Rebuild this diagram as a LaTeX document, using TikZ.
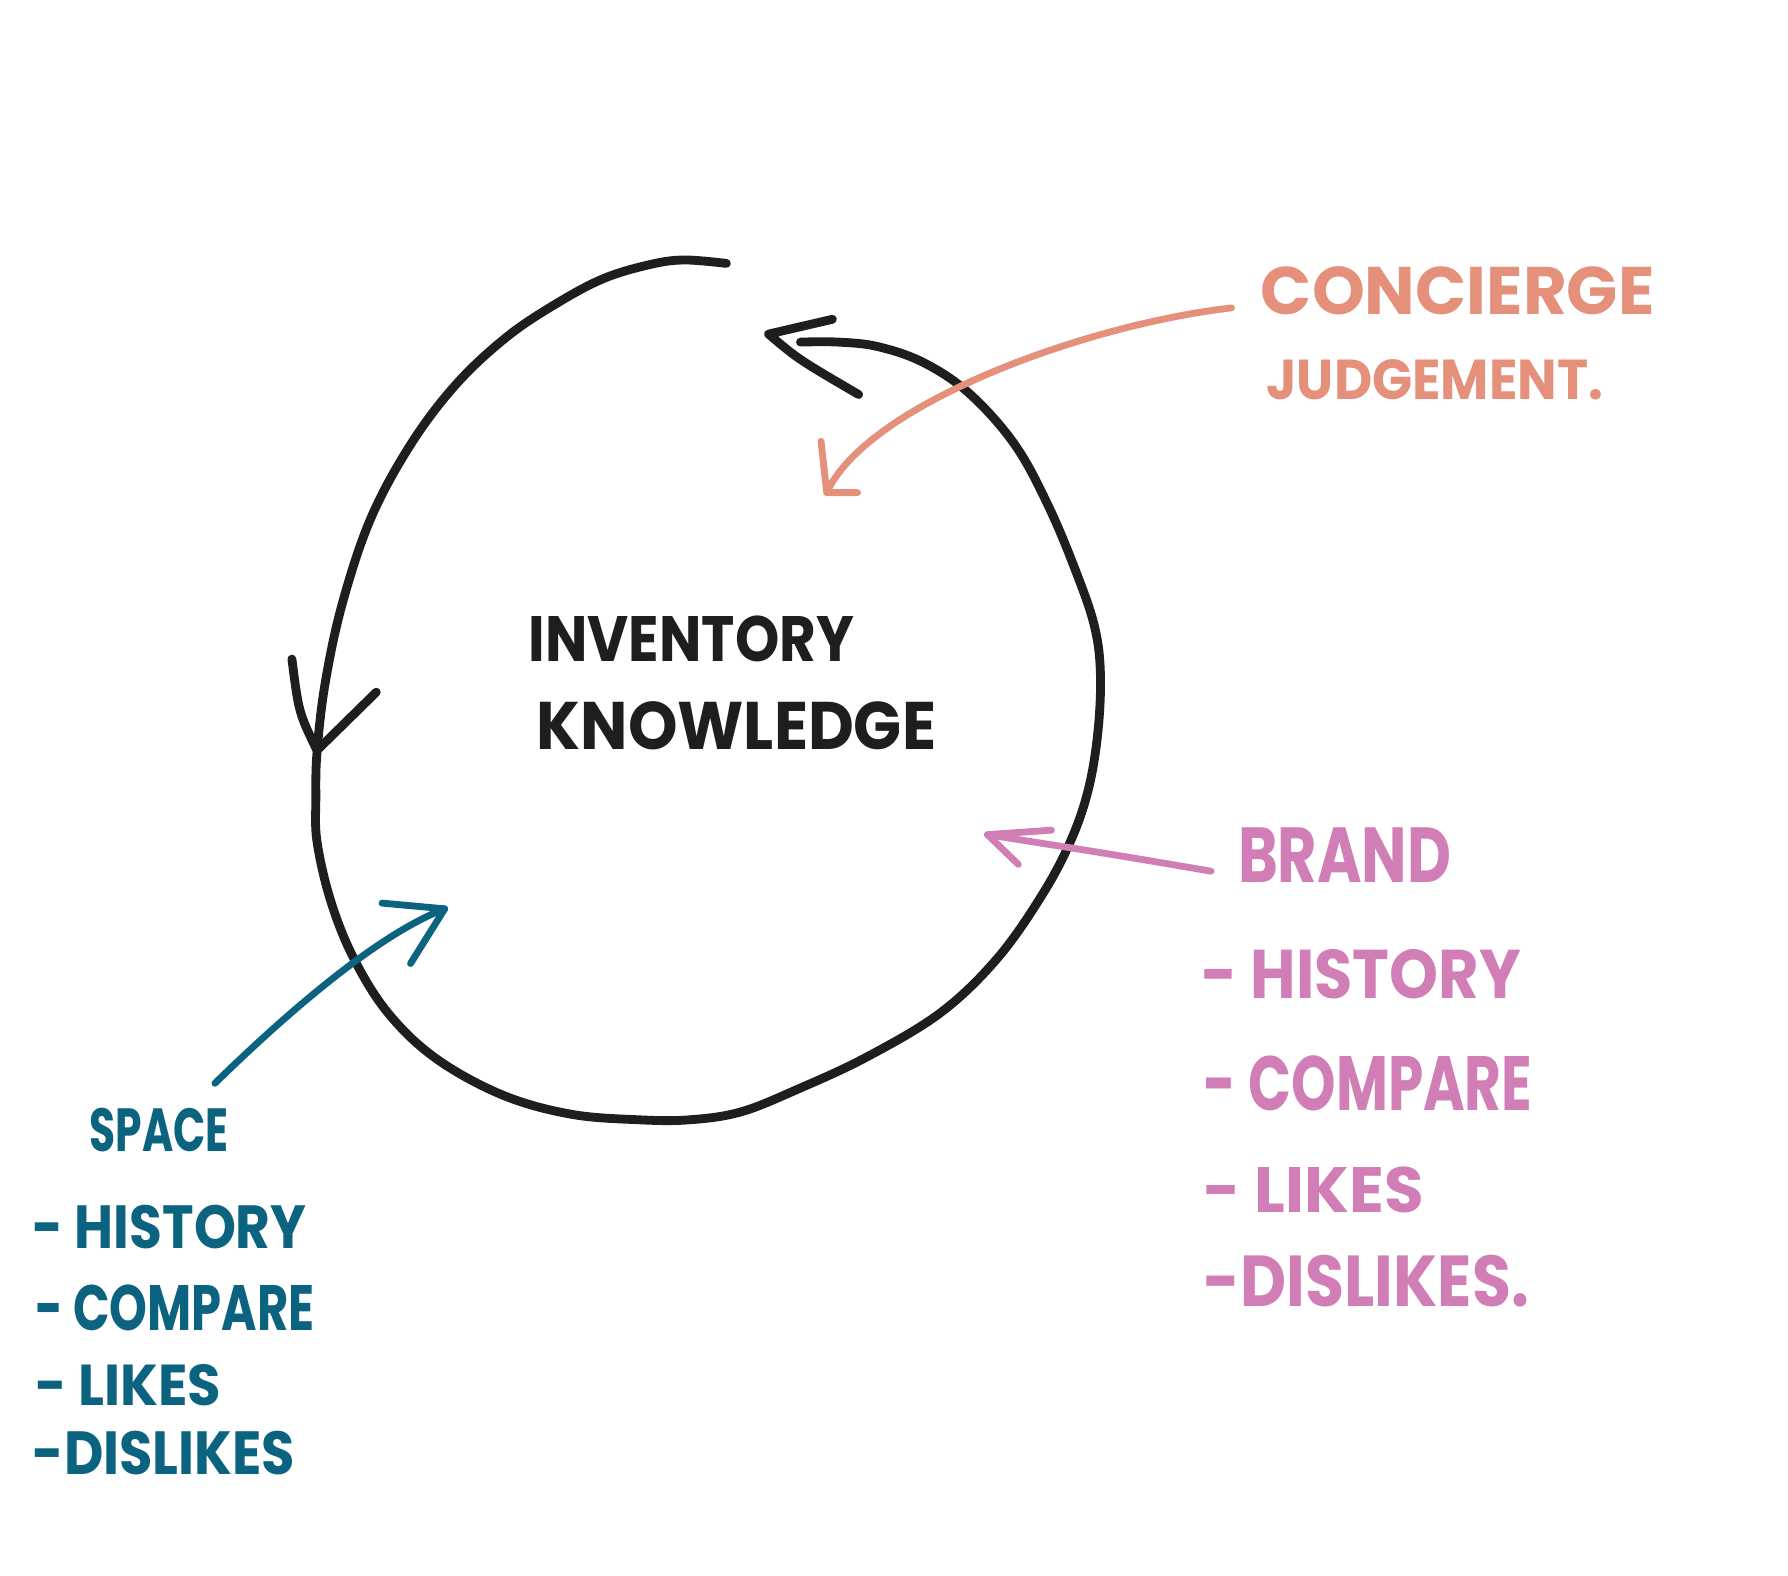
\documentclass[tikz,border=0pt]{standalone}
\usepackage{fontspec}
\usepackage{graphicx}
\setmainfont{Poppins}
\usetikzlibrary{calc}
\definecolor{inkcolor}{HTML}{1E1E1E}
\definecolor{conccolor}{HTML}{E4907A}
\definecolor{brandcolor}{HTML}{D07EB5}
\definecolor{spacecolor}{HTML}{0B6380}
% text squeezed to the size of the hand lettering
\newcommand{\handword}[3]{\resizebox{#1}{#2}{\bfseries #3}}

\begin{document}
\begin{tikzpicture}[
  x=0.01cm, y=-0.01cm,
  hand/.style={anchor=base west, inner sep=0pt},
  ink/.style={draw=inkcolor, line width=2.2pt, line cap=round, line join=round},
  concline/.style={draw=conccolor, line width=1.7pt, line cap=round, line join=round},
  brandline/.style={draw=brandcolor, line width=1.7pt, line cap=round, line join=round},
  spaceline/.style={draw=spacecolor, line width=1.7pt, line cap=round, line join=round},
]
  \useasboundingbox[fill=white] (0,0) rectangle (1568,1382);

  % loop
  \draw[ink] plot[smooth, tension=0.6] coordinates {
    (637,231) (600,228) (570,232) (530,244) (490,265) (445,295) (400,337)
    (360,390) (325,455) (300,530) (285,600) (278,660) (277,700) (278,738)
    (290,790) (310,840) (340,888) (382,928) (440,960) (500,977)
    (560,982) (605,982) (650,975) (700,955) (760,927) (825,888) (875,840)
    (915,783) (940,735) (955,690) (963,640) (965,590) (960,550) (945,505)
    (920,445) (890,390) (850,345) (810,318) (770,304) (735,300) (702,300)};
  \draw[ink] (730,280) -- (674,293) .. controls (700,315) .. (753,346);
  \draw[ink] (256,578) .. controls (262,625) .. (278,658) -- (330,607);

  % centre
  \node[hand, text=inkcolor] (inv) at (463,580) {\handword{2.85cm}{0.40cm}{INVENTORY}};
  \node[hand, text=inkcolor] (know) at (470,657) {\handword{3.50cm}{0.42cm}{KNOWLEDGE}};

  % concierge
  \node[hand, text=conccolor] (conc) at (1105,276) {\handword{3.45cm}{0.42cm}{CONCIERGE}};
  \node[hand, text=conccolor] (judg) at (1110,350) {\handword{2.95cm}{0.35cm}{JUDGEMENT.}};
  \coordinate (conctip) at (725,432);
  \draw[concline] ($(conc.base west)+(-25,-6)$) .. controls (950,285) and (760,355) .. (conctip);
  \draw[concline] ([shift={(-5,-45)}]conctip) -- (conctip) -- ([shift={(27,0)}]conctip);

  % brand
  \node[hand, text=brandcolor] (brand) at (1085,774) {\handword{1.87cm}{0.48cm}{BRAND}};
  \node[hand, text=brandcolor] (bhist) at (1053,876) {\handword{2.80cm}{0.43cm}{- HISTORY}};
  \node[hand, text=brandcolor] (bcomp) at (1055,974) {\handword{2.88cm}{0.48cm}{- COMPARE}};
  \node[hand, text=brandcolor] (blikes) at (1055,1063) {\handword{1.93cm}{0.40cm}{- LIKES}};
  \node[hand, text=brandcolor] (bdis) at (1055,1146) {\handword{2.85cm}{0.45cm}{-DISLIKES.}};
  \coordinate (brandtip) at (866,732);
  \draw[brandline] ($(brand.base west)+(-23,-10)$) .. controls (980,750) .. (brandtip);
  \draw[brandline] ([shift={(56,-4)}]brandtip) -- (brandtip) -- ([shift={(27,26)}]brandtip);

  % space
  \node[hand, text=spacecolor] (space) at (78,1010) {\handword{1.22cm}{0.38cm}{SPACE}};
  \node[hand, text=spacecolor] (shist) at (28,1095) {\handword{2.40cm}{0.38cm}{- HISTORY}};
  \node[hand, text=spacecolor] (scomp) at (30,1167) {\handword{2.45cm}{0.40cm}{- COMPARE}};
  \node[hand, text=spacecolor] (slikes) at (30,1233) {\handword{1.63cm}{0.36cm}{- LIKES}};
  \node[hand, text=spacecolor] (sdis) at (28,1293) {\handword{2.30cm}{0.38cm}{-DISLIKES}};
  \coordinate (spacetip) at (390,797);
  \draw[spaceline] ($(space.base east)+(-13,-60)$) .. controls (250,890) and (330,820) .. (spacetip);
  \draw[spaceline] ([shift={(-55,-5)}]spacetip) -- (spacetip) -- ([shift={(-30,48)}]spacetip);
\end{tikzpicture}
\end{document}
